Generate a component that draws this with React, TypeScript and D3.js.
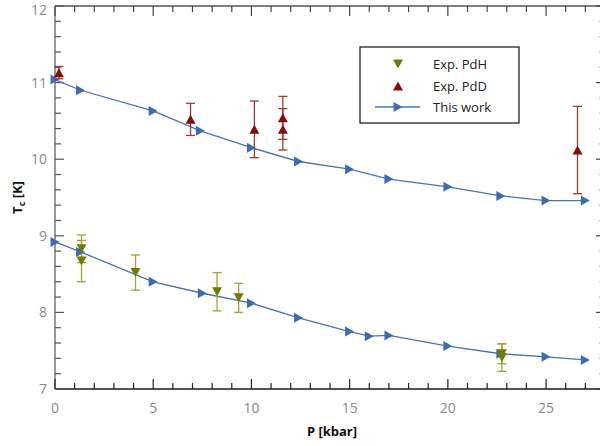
import React from "react";
import * as d3 from "d3";

// ---- data ----
const workUpperP = [0, 1.3, 5, 7.4, 10, 12.4, 15, 17, 20, 22.7, 25, 27];
const workUpperT = [11.04, 10.9, 10.63, 10.37, 10.15, 9.97, 9.87, 9.74, 9.64, 9.52, 9.46, 9.46];
const workLowerP = [0, 1.3, 5, 7.5, 10, 12.4, 15, 16, 17, 20, 22.7, 25, 27];
const workLowerT = [8.92, 8.79, 8.4, 8.25, 8.12, 7.93, 7.75, 7.69, 7.7, 7.56, 7.46, 7.42, 7.38];

const pdDP = [0.2, 6.9, 10.15, 11.6, 11.6, 26.6];
const pdDT = [11.13, 10.52, 10.39, 10.54, 10.39, 10.12];
const pdDErr = [0.08, 0.21, 0.37, 0.28, 0.27, 0.57];

const pdHP = [1.35, 1.35, 4.1, 8.25, 9.35, 22.75, 22.75];
const pdHT = [8.83, 8.67, 8.52, 8.27, 8.19, 7.41, 7.46];
const pdHErr = [0.18, 0.27, 0.23, 0.25, 0.19, 0.18, 0.13];

const xTicks = [0, 5, 10, 15, 20, 25];
const yTicks = [7, 8, 9, 10, 11, 12];
const legendLabels = ["Exp. PdH", "Exp. PdD", "This work"];

const W = 600;
const H = 446;
const m = { left: 55, right: 605, top: 6, bottom: 389 };

const BLUE = "#3d6cb0";
const LINE_BLUE = "#4a74b0";
const RED = "#8b0a0a";
const RED_ERR = "#a03a3a";
const GREEN = "#6e7d00";
const GREEN_ERR = "#a3a232";

const font = "'Open Sans', 'DejaVu Sans', sans-serif";

function triPath(cx: number, cy: number, dir: "up" | "down" | "right", s: number) {
  const h = s * 0.9;
  if (dir === "up") return `M${cx - s / 2},${cy + h / 2}L${cx + s / 2},${cy + h / 2}L${cx},${cy - h / 2}Z`;
  if (dir === "down") return `M${cx - s / 2},${cy - h / 2}L${cx + s / 2},${cy - h / 2}L${cx},${cy + h / 2}Z`;
  return `M${cx - h / 2},${cy - s / 2}L${cx - h / 2},${cy + s / 2}L${cx + h / 2},${cy}Z`;
}

export default function App() {
  const x = d3.scaleLinear().domain([0, 28]).range([m.left, m.right]);
  const y = d3.scaleLinear().domain([7, 12]).range([m.bottom, m.top]);
  const line = d3
    .line<[number, number]>()
    .x((d) => x(d[0]))
    .y((d) => y(d[1]));

  const upper: [number, number][] = workUpperP.map((p, i) => [p, workUpperT[i]]);
  const lower: [number, number][] = workLowerP.map((p, i) => [p, workLowerT[i]]);

  const xMinor = d3.range(0, 29, 1);
  const yMinor = d3.range(7, 12.001, 0.2);

  return (
    <svg width={W} height={H} style={{ position: "absolute", left: 0, top: 0, background: "#fff" }}>
      {/* axes frame */}
      <line x1={m.left} x2={W} y1={m.bottom} y2={m.bottom} stroke="#1a1a1a" strokeWidth={1.5} />
      <line x1={m.left} x2={W} y1={m.top} y2={m.top} stroke="#555" strokeWidth={1.5} />
      <line x1={m.left} x2={m.left} y1={m.top} y2={m.bottom} stroke="#777" strokeWidth={1.5} />
      <line x1={m.right} x2={m.right} y1={m.top} y2={m.bottom} stroke="#999" strokeWidth={1.5} />

      {/* x ticks bottom & top */}
      {xMinor.map((v) => {
        const major = v % 5 === 0;
        const len = major ? 10 : 6;
        return (
          <g key={"xt" + v}>
            <line x1={x(v)} x2={x(v)} y1={m.bottom} y2={m.bottom - len} stroke="#222" strokeWidth={1.2} />
            <line x1={x(v)} x2={x(v)} y1={m.top} y2={m.top + len} stroke="#444" strokeWidth={1.2} />
          </g>
        );
      })}
      {xTicks.map((v) => (
        <text key={"xl" + v} x={x(v)} y={413} textAnchor="middle" fontFamily={font} fontSize={14} fill="#8a8a8a">
          {v}
        </text>
      ))}

      {/* y ticks left & right */}
      {yMinor.map((v, i) => {
        const major = i % 5 === 0;
        const len = major ? 9 : 6;
        return (
          <g key={"yt" + i}>
            <line x1={m.left} x2={m.left + len} y1={y(v)} y2={y(v)} stroke="#555" strokeWidth={1.2} />
            <line x1={m.right} x2={m.right - len} y1={y(v)} y2={y(v)} stroke={major ? "#444" : "#bbb"} strokeWidth={1.2} />
          </g>
        );
      })}
      {yTicks.map((v) => (
        <text
          key={"yl" + v}
          x={47}
          y={Math.max(y(v) + 5, 15)}
          textAnchor="end"
          fontFamily={font}
          fontSize={14}
          fill="#8a8a8a"
        >
          {v}
        </text>
      ))}

      {/* axis labels */}
      <text x={332} y={436} textAnchor="middle" fontFamily={font} fontSize={13} fontWeight="bold" fill="#111">
        P [kbar]
      </text>
      <text
        transform={`translate(22,${(m.top + m.bottom) / 2}) rotate(-90)`}
        textAnchor="middle"
        fontFamily={font}
        fontSize={13}
        fontWeight="bold"
        fill="#111"
      >
        T<tspan fontSize={9} dy={3}>c</tspan>
        <tspan dy={-3}> [K]</tspan>
      </text>

      {/* theory lines */}
      <path d={line(upper) || ""} fill="none" stroke={LINE_BLUE} strokeWidth={1.3} />
      <path d={line(lower) || ""} fill="none" stroke={LINE_BLUE} strokeWidth={1.3} />

      {/* PdH error bars */}
      {pdHP.map((p, i) => {
        const cx = x(p);
        const y1 = y(pdHT[i] + pdHErr[i]);
        const y2 = y(pdHT[i] - pdHErr[i]);
        return (
          <g key={"he" + i} stroke={GREEN_ERR} strokeWidth={1.3}>
            <line x1={cx} x2={cx} y1={y1} y2={y2} />
            <line x1={cx - 4.5} x2={cx + 4.5} y1={y1} y2={y1} />
            <line x1={cx - 4.5} x2={cx + 4.5} y1={y2} y2={y2} />
          </g>
        );
      })}
      {/* PdD error bars */}
      {pdDP.map((p, i) => {
        const cx = x(p);
        const y1 = y(pdDT[i] + pdDErr[i]);
        const y2 = y(pdDT[i] - pdDErr[i]);
        return (
          <g key={"de" + i} stroke={RED_ERR} strokeWidth={1.3}>
            <line x1={cx} x2={cx} y1={y1} y2={y2} />
            <line x1={cx - 4.5} x2={cx + 4.5} y1={y1} y2={y1} />
            <line x1={cx - 4.5} x2={cx + 4.5} y1={y2} y2={y2} />
          </g>
        );
      })}

      {/* theory markers */}
      {[...upper, ...lower].map((d, i) => (
        <path key={"bm" + i} d={triPath(x(d[0]), y(d[1]), "right", 10)} fill={BLUE} />
      ))}

      {pdHP.map((p, i) => (
        <path key={"hm" + i} d={triPath(x(p), y(pdHT[i]), "down", 10)} fill={GREEN} />
      ))}
      {pdDP.map((p, i) => (
        <path key={"dm" + i} d={triPath(x(p), y(pdDT[i]), "up", 10)} fill={RED} />
      ))}

      {/* legend */}
      <rect x={360} y={47} width={159} height={76} fill="#fff" stroke="#111" strokeWidth={1.2} />
      <path d={triPath(398, 64, "down", 10)} fill={GREEN} />
      <path d={triPath(398, 86, "up", 10)} fill={RED} />
      <line x1={375} x2={420} y1={107} y2={107} stroke={LINE_BLUE} strokeWidth={1.3} />
      <path d={triPath(398, 107, "right", 10)} fill={BLUE} />
      {legendLabels.map((t, i) => (
        <text key={"lg" + i} x={433} y={69 + i * 21.5} fontFamily={font} fontSize={13} fill="#222">
          {t}
        </text>
      ))}
    </svg>
  );
}
